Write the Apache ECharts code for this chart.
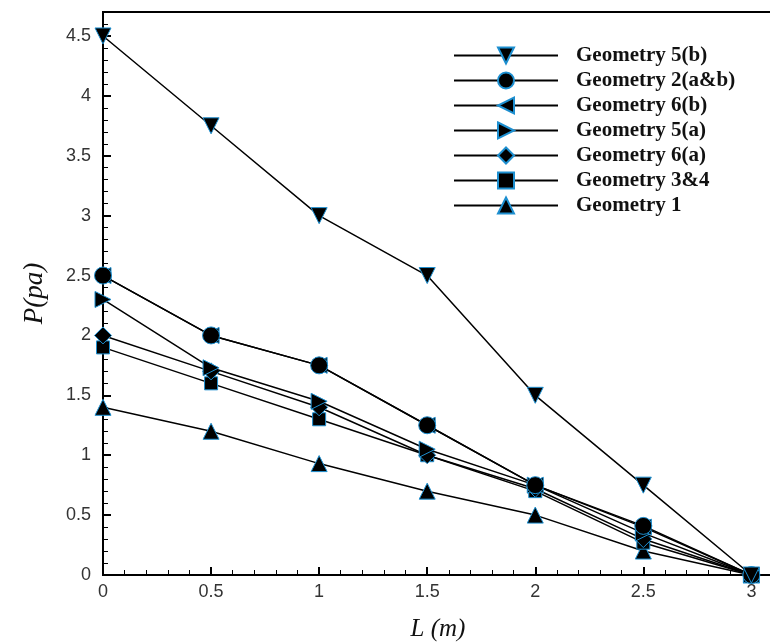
<!DOCTYPE html>
<html>
<head>
<meta charset="utf-8">
<script src="https://cdn.jsdelivr.net/npm/echarts@6/dist/echarts.min.js"></script>
<style>
  html, body { margin: 0; padding: 0; background: #fff; }
  #chart { width: 770px; height: 643px; }
</style>
</head>
<body>
<div id="chart"></div>
<script>
// data
const lengths = [0, 0.5, 1, 1.5, 2, 2.5, 3];
const geo5b  = [4.5, 3.75, 3.0, 2.5, 1.5, 0.75, 0];
const geo2ab = [2.5, 2.0, 1.75, 1.25, 0.75, 0.41, 0];
const geo6b  = [2.5, 2.0, 1.75, 1.25, 0.75, 0.4, 0];
const geo5a  = [2.3, 1.73, 1.45, 1.05, 0.75, 0.35, 0];
const geo6a  = [2.0, 1.7, 1.4, 1.0, 0.72, 0.3, 0];
const geo34  = [1.9, 1.6, 1.3, 1.0, 0.7, 0.27, 0];
const geo1   = [1.4, 1.2, 0.93, 0.7, 0.5, 0.2, 0];

const names = ["Geometry 5(b)", "Geometry 2(a&b)", "Geometry 6(b)", "Geometry 5(a)", "Geometry 6(a)", "Geometry 3&4", "Geometry 1"];
const values = [geo5b, geo2ab, geo6b, geo5a, geo6a, geo34, geo1];
const symbols = [
  "path://M0,0 L10,0 L5,9 Z",
  "circle",
  "path://M9,0 L9,10 L0,5 Z",
  "path://M0,0 L9,5 L0,10 Z",
  "diamond",
  "rect",
  "triangle"
];
const sizes = [16, 17, 16, 16, 17, 13, 16];

const chart = echarts.init(document.getElementById("chart"));

const series = names.map((n, i) => ({
  name: n,
  type: "line",
  data: lengths.map((x, j) => [x, values[i][j]]),
  symbol: symbols[i],
  symbolSize: sizes[i],
  showAllSymbol: true,
  lineStyle: { color: "#000", width: 1.5 },
  itemStyle: { color: "#000", borderColor: "#1d8fd0", borderWidth: 1 },
  emphasis: { disabled: true },
  z: 10 - i
}));

chart.setOption({
  animation: false,
  grid: {
    left: 103, top: 12, width: 670, bottom: 68,
    outerBoundsMode: "none",
    show: true, borderColor: "#000", borderWidth: 2
  },
  legend: {
    orient: "vertical",
    left: 453,
    top: 45,
    padding: 0,
    itemWidth: 104,
    itemHeight: 20,
    itemGap: 4,
    textStyle: {
      fontFamily: "Liberation Serif",
      fontSize: 21,
      fontWeight: "bold",
      lineHeight: 18,
      color: "#111",
      padding: [0, 0, 0, 13]
    },
    data: names
  },
  xAxis: {
    type: "value",
    min: 0,
    max: 3.1,
    interval: 0.5,
    name: "L (m)",
    nameLocation: "middle",
    nameGap: 42,
    nameTextStyle: { fontFamily: "Liberation Serif", fontStyle: "italic", fontSize: 25, color: "#111" },
    axisLine: { lineStyle: { color: "#000", width: 2 } },
    axisTick: { inside: true, length: 8, lineStyle: { color: "#000", width: 2 } },
    minorTick: { show: true, splitNumber: 5, length: 5, lineStyle: { color: "#000", width: 1 } },
    axisLabel: { showMaxLabel: false, fontFamily: "Liberation Sans", fontSize: 18, color: "#333", margin: 8 },
    splitLine: { show: false }
  },
  yAxis: {
    type: "value",
    min: 0,
    max: 4.7,
    interval: 0.5,
    name: "P(pa)",
    nameLocation: "middle",
    nameGap: 55,
    nameTextStyle: { fontFamily: "Liberation Serif", fontStyle: "italic", fontSize: 27, color: "#111" },
    axisLine: { lineStyle: { color: "#000", width: 2 } },
    axisTick: { inside: true, length: 8, lineStyle: { color: "#000", width: 2 } },
    minorTick: { show: true, splitNumber: 5, length: 5, lineStyle: { color: "#000", width: 1 } },
    axisLabel: { showMaxLabel: false, fontFamily: "Liberation Sans", fontSize: 18, color: "#333", margin: 12 },
    splitLine: { show: false }
  },
  series: series
});
</script>
</body>
</html>
